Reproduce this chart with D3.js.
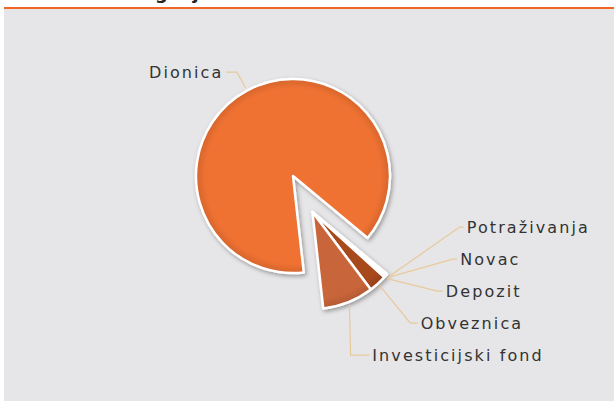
<!DOCTYPE html>
<html>
<head>
<meta charset="utf-8">
<script src="https://cdn.jsdelivr.net/npm/d3@7"></script>
<style>
  html, body { margin: 0; padding: 0; background: #fff; }
  svg { display: block; }
</style>
</head>
<body>
<div id="chart"></div>
<script>
// Data (order = clockwise from the small slices)
const categories = ['Potraživanja', 'Novac', 'Depozit', 'Obveznica', 'Investicijski fond', 'Dionica'];
const shares = [0.2, 0.2, 0.3, 3.0, 8.5, 87.8];
const sliceColors = ['#F3D2BC', '#EFC6A8', '#E9B48F', '#A8481E', '#C8653A', '#F07232'];
const exploded = ['Potraživanja', 'Novac', 'Depozit', 'Obveznica', 'Investicijski fond'];
const chartTitle = 'Struktura ulaganja';

const width = 614, height = 401;
const cx = 293, cy = 176, radius = 97;
const explodeDist = 41;
const deg = Math.PI / 180;

const svg = d3.select('#chart').append('svg')
  .attr('width', width)
  .attr('height', height);

const defs = svg.append('defs');
const shadow = defs.append('filter').attr('id', 'shadow')
  .attr('x', '-20%').attr('y', '-20%').attr('width', '140%').attr('height', '140%');
shadow.append('feDropShadow')
  .attr('dx', 1.5).attr('dy', 2).attr('stdDeviation', 2)
  .attr('flood-color', '#000').attr('flood-opacity', 0.35);

sliceColors.forEach((c, i) => {
  const g = defs.append('radialGradient').attr('id', 'grad' + i)
    .attr('gradientUnits', 'userSpaceOnUse')
    .attr('cx', 0).attr('cy', 0).attr('r', radius);
  g.append('stop').attr('offset', '0%').attr('stop-color', c);
  g.append('stop').attr('offset', '90%').attr('stop-color', c);
  g.append('stop').attr('offset', '100%').attr('stop-color', d3.color(c).darker(0.35));
});

// background panel + top rule + title (cut off at the top, as in the reference)
svg.append('rect').attr('x', 4).attr('y', 9).attr('width', width - 4).attr('height', height - 9)
  .attr('fill', '#E6E6E8');
svg.append('rect').attr('x', 4).attr('y', 7).attr('width', width - 4).attr('height', 2)
  .attr('fill', '#F26522');

const title = svg.append('text')
  .attr('y', -1)
  .style('font-family', '"DejaVu Sans", sans-serif')
  .style('font-weight', 'bold')
  .style('font-size', '18px')
  .attr('fill', '#222')
  .text(chartTitle);
const tmp = svg.append('text')
  .style('font-family', '"DejaVu Sans", sans-serif')
  .style('font-weight', 'bold').style('font-size', '18px')
  .text(chartTitle.slice(0, chartTitle.indexOf('g')));
const prefixW = tmp.node().getComputedTextLength();
tmp.remove();
title.attr('x', 155 - prefixW);

const data = categories.map((name, i) => ({ name, value: shares[i], idx: i }));

const pie = d3.pie().value(d => d.value).sort(null)
  .startAngle(129.7 * deg).endAngle(129.7 * deg + 2 * Math.PI);
const arcs = pie(data);

const arc = d3.arc().innerRadius(0).outerRadius(radius);

const expArcs = arcs.filter(a => exploded.includes(a.data.name));
const expMid = (d3.min(expArcs, a => a.startAngle) + d3.max(expArcs, a => a.endAngle)) / 2;
const ex = Math.sin(expMid) * explodeDist, ey = -Math.cos(expMid) * explodeDist;

function center(a) {
  return exploded.includes(a.data.name) ? [cx + ex, cy + ey] : [cx, cy];
}

// slices
const sliceLayer = svg.append('g');
['main', 'exp'].forEach(group => {
  const list = arcs.filter(a => (group === 'exp') === exploded.includes(a.data.name));
  const g = sliceLayer.append('g').attr('filter', 'url(#shadow)');
  list.forEach(a => {
    const [x, y] = center(a);
    g.append('path')
      .attr('transform', `translate(${x},${y})`)
      .attr('d', arc(a))
      .attr('fill', `url(#grad${a.data.idx})`)
      .attr('stroke', '#fff')
      .attr('stroke-width', 2.5)
      .attr('stroke-linejoin', 'round');
  });
});

// labels with leader lines
const lineColor = '#E8C99A';
const labelR = 148, labelRMain = 118, textOff = 7, gap = 32;
const labelFont = '"DejaVu Sans", sans-serif';

const labels = arcs.map(a => {
  const mid = (a.startAngle + a.endAngle) / 2;
  const [x0, y0] = center(a);
  const isExp = exploded.includes(a.data.name);
  const R = isExp ? labelR : labelRMain;
  return {
    a, mid, x0, y0, isExp, R,
    sx: x0 + Math.sin(mid) * (radius + 3),
    sy: y0 - Math.cos(mid) * (radius + 3),
    ly: y0 - Math.cos(mid) * R
  };
});

// spread the exploded-group labels vertically along their circle
const right = labels.filter(l => l.isExp).sort((p, q) => p.ly - q.ly);
for (let i = 1; i < right.length; i++) {
  if (right[i].ly - right[i - 1].ly < gap) right[i].ly = right[i - 1].ly + gap;
}
const maxY = right[0].y0 + 143;
if (right[right.length - 1].ly > maxY) {
  right[right.length - 1].ly = maxY;
  for (let i = right.length - 2; i >= 0; i--) {
    if (right[i + 1].ly - right[i].ly < gap) right[i].ly = right[i + 1].ly - gap;
  }
}

const labelLayer = svg.append('g');
labels.forEach(l => {
  const dy = l.ly - l.y0;
  const side = Math.sin(l.mid) >= 0 ? 1 : -1;
  const ex2 = l.x0 + side * Math.sqrt(Math.max(0, l.R * l.R - dy * dy));
  const tR = l.R + textOff;
  const tx = l.x0 + side * Math.sqrt(Math.max(0, tR * tR - dy * dy));
  const hx = tx - side * 3;
  labelLayer.append('polyline')
    .attr('points', [[l.sx, l.sy], [ex2, l.ly], [hx, l.ly]].map(p => p.join(',')).join(' '))
    .attr('fill', 'none')
    .attr('stroke', lineColor)
    .attr('stroke-width', 1.2);
  labelLayer.append('text')
    .attr('x', tx)
    .attr('y', l.ly + 6)
    .attr('text-anchor', side > 0 ? 'start' : 'end')
    .style('font-family', labelFont)
    .style('font-size', '16px')
    .style('letter-spacing', '2.1px')
    .attr('fill', '#333')
    .text(l.a.data.name);
});
</script>
</body>
</html>
